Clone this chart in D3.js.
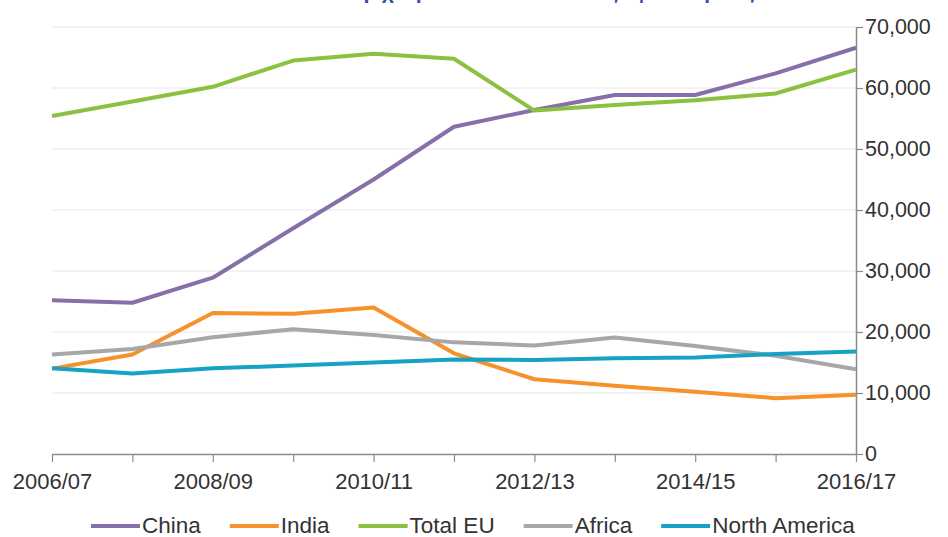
<!DOCTYPE html>
<html>
<head>
<meta charset="utf-8">
<script src="https://cdn.jsdelivr.net/npm/d3@7"></script>
<style>
  body { margin: 0; background: #fff; }
  svg { display: block; font-family: "Liberation Sans", Arial, sans-serif; }
</style>
</head>
<body>
<div id="chart"></div>
<script>
// data (students per year)
const categories = ["2006/07", "2007/08", "2008/09", "2009/10", "2010/11", "2011/12",
                    "2012/13", "2013/14", "2014/15", "2015/16", "2016/17"];
const china        = [25200, 24800, 28900, 37000, 45000, 53650, 56400, 58850, 58850, 62400, 66600];
const india        = [14000, 16300, 23100, 23000, 24000, 16500, 12250, 11200, 10200, 9150, 9700];
const totalEU      = [55400, 57800, 60200, 64500, 65600, 64800, 56300, 57200, 58000, 59100, 63000];
const africa       = [16300, 17200, 19150, 20450, 19500, 18300, 17800, 19100, 17700, 16100, 13900];
const northAmerica = [14050, 13200, 14050, 14500, 15000, 15500, 15400, 15700, 15800, 16400, 16800];
const seriesNames  = ["China", "India", "Total EU", "Africa", "North America"];
const yTicks       = [0, 10000, 20000, 30000, 40000, 50000, 60000, 70000];

const colors = ["#8670a9", "#f7922a", "#8cc040", "#a7a7a7", "#17a2c3"];
const seriesValues = [china, india, totalEU, africa, northAmerica];

const W = 948, H = 537;
const svg = d3.select("#chart").append("svg")
  .attr("width", W)
  .attr("height", H);

const x = d3.scalePoint()
  .domain(categories)
  .range([52, 856]);

const y = d3.scaleLinear()
  .domain([0, 70000])
  .range([454, 27]);

// title, mostly cut off at the top edge (as in the source image)
svg.append("text")
  .attr("x", 527)
  .attr("y", -1)
  .attr("text-anchor", "middle")
  .attr("textLength", 455)
  .style("font-size", "21px")
  .style("font-weight", "bold")
  .attr("fill", "#2f54a3")
  .text("Εισερχόμενοι διεθνείς φοιτητές");

// gridlines
svg.append("g")
  .selectAll("line")
  .data(yTicks.slice(1))
  .join("line")
    .attr("x1", x.range()[0])
    .attr("x2", x.range()[1])
    .attr("y1", d => y(d))
    .attr("y2", d => y(d))
    .attr("stroke", "#efefef")
    .attr("stroke-width", 1.5);

// X axis
const xAxis = svg.append("g")
  .attr("transform", `translate(0,${y(0)})`)
  .call(d3.axisBottom(x)
    .tickSize(8)
    .tickSizeOuter(0)
    .tickPadding(11)
    .tickFormat((d, i) => i % 2 === 0 ? d : ""));
xAxis.select(".domain").attr("stroke", "#8a8a8a").attr("stroke-width", 1.5);
xAxis.selectAll(".tick line").attr("stroke", "#8a8a8a").attr("stroke-width", 1.2);
xAxis.selectAll("text")
  .style("font-size", "22px")
  .attr("fill", "#333");

// Y axis on the right
const yAxis = svg.append("g")
  .attr("transform", `translate(${x.range()[1]},0)`)
  .call(d3.axisRight(y)
    .tickValues(yTicks)
    .tickFormat(d3.format(","))
    .tickSize(7)
    .tickSizeOuter(0)
    .tickPadding(2));
yAxis.select(".domain").attr("stroke", "#8a8a8a").attr("stroke-width", 1.5);
yAxis.selectAll(".tick line").attr("stroke", "#8a8a8a").attr("stroke-width", 1.2);
yAxis.selectAll("text")
  .style("font-size", "21.5px")
  .attr("fill", "#333");

// lines
const line = d3.line()
  .x((d, i) => x(categories[i]))
  .y(d => y(d));

svg.append("g")
  .selectAll("path")
  .data(seriesValues)
  .join("path")
    .attr("d", line)
    .attr("fill", "none")
    .attr("stroke", (d, i) => colors[i])
    .attr("stroke-width", 4)
    .attr("stroke-linejoin", "round");

// legend
const legend = svg.append("g").attr("transform", "translate(91,526)");
let lx = 0;
seriesNames.forEach((name, i) => {
  const g = legend.append("g").attr("transform", `translate(${lx},0)`);
  g.append("line")
    .attr("x1", 0).attr("x2", 49)
    .attr("y1", 0).attr("y2", 0)
    .attr("stroke", colors[i])
    .attr("stroke-width", 4);
  const t = g.append("text")
    .attr("x", 51)
    .attr("y", 7)
    .style("font-size", "22.5px")
    .attr("fill", "#333")
    .text(name);
  lx += 51 + t.node().getComputedTextLength() + 29;
});
</script>
</body>
</html>
